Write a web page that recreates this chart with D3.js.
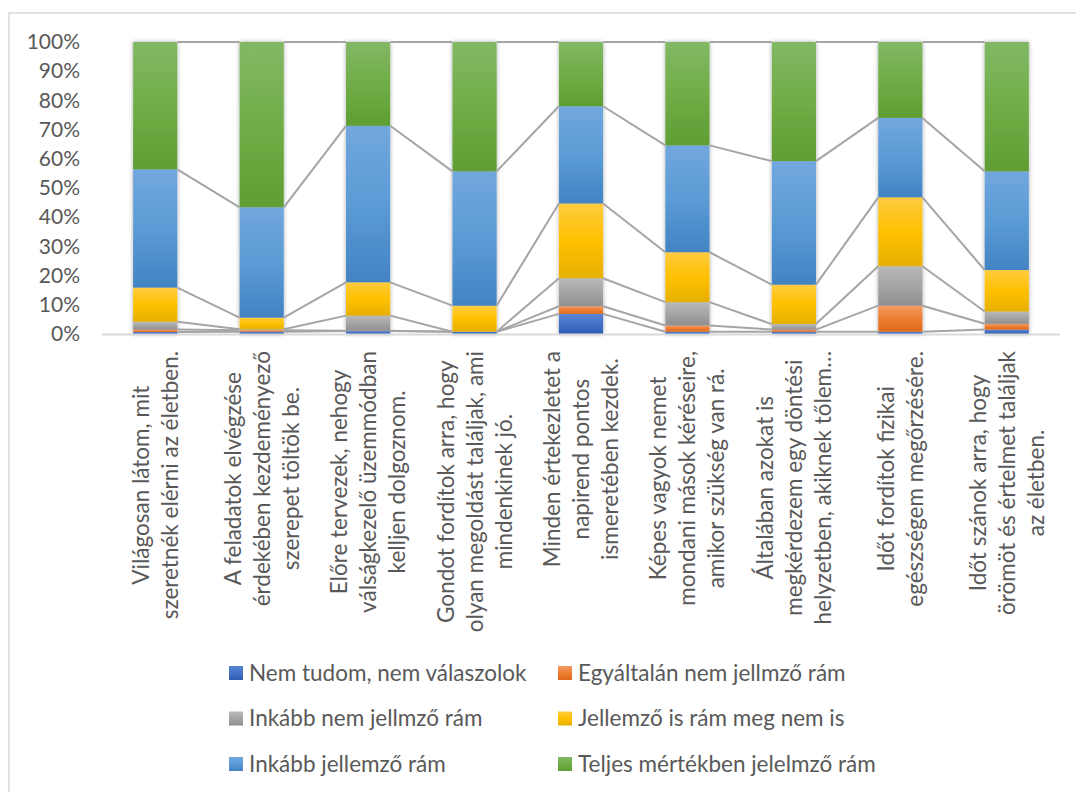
<!DOCTYPE html>
<html>
<head>
<meta charset="utf-8">
<script src="https://cdn.jsdelivr.net/npm/d3@7"></script>
<style>
  body { margin: 0; background: #fff; }
  svg { display: block; font-family: Lato, "Open Sans", sans-serif; }
</style>
</head>
<body>
<svg id="chart"></svg>
<script>
let categories = [
    ["Világosan látom, mit", "szeretnék elérni az életben."],
    ["A feladatok elvégzése", "érdekében kezdeményező", "szerepet töltök be."],
    ["Előre tervezek, nehogy", "válságkezelő üzemmódban", "kelljen dolgoznom."],
    ["Gondot fordítok arra, hogy", "olyan megoldást találjak, ami", "mindenkinek jó."],
    ["Minden értekezletet a", "napirend pontos", "ismeretében kezdek."],
    ["Képes vagyok nemet", "mondani mások kéréseire,", "amikor szükség van rá."],
    ["Általában azokat is", "megkérdezem egy döntési", "helyzetben, akiknek tőlem…"],
    ["Időt fordítok fizikai", "egészségem megőrzésére."],
    ["Időt szánok arra, hogy", "örömöt és értelmet találjak", "az életben."]
];

let seriesNames = [
    "Nem tudom, nem válaszolok",
    "Egyáltalán nem jellmző rám",
    "Inkább nem jellmző rám",
    "Jellemző is rám meg nem is",
    "Inkább jellemző rám",
    "Teljes mértékben jelelmző rám"
];

let nemTudom       = [0.7, 0.8, 1.0, 0.8, 6.9, 0.8, 0.8, 0.8, 1.5];
let egyaltalan     = [0.8, 0.5, 0.1, 0.0, 2.6, 2.1, 0.7, 8.9, 2.0];
let inkabbNem      = [2.7, 0.3, 5.2, 0.0, 9.6, 8.0, 1.9, 13.5, 4.2];
let jellemzoIs     = [11.7, 4.0, 11.4, 8.9, 25.6, 17.1, 13.5, 23.6, 14.2];
let inkabbJellemzo = [40.5, 37.8, 53.6, 46.0, 33.3, 36.6, 42.3, 27.2, 33.8];
let teljes         = [43.6, 56.6, 28.7, 44.3, 22.0, 35.4, 40.8, 26.0, 44.3];

let yTicks = [0, 0.1, 0.2, 0.3, 0.4, 0.5, 0.6, 0.7, 0.8, 0.9, 1];

window.addEventListener('load', e => {
    let width = 1076;
    let height = 792;
    let left = 102, right = 1060, top = 42, bottom = 334;
    let textColor = "#595959";

    // gradient stops per series: top, middle, bottom
    let gradients = [
        ["#5b85d4", "#4472c4", "#2f5cb4"],
        ["#f39a62", "#ed7d31", "#e0691a"],
        ["#b9b9b9", "#a5a5a5", "#8f8f8f"],
        ["#ffcc40", "#ffc000", "#e6b000"],
        ["#72a7de", "#5b9bd5", "#4283c3"],
        ["#82b866", "#70ad47", "#5e9e33"]
    ];

    let columns = [nemTudom, egyaltalan, inkabbNem, jellemzoIs, inkabbJellemzo, teljes];
    let rows = categories.map((c, i) => {
        let row = { idx: i };
        seriesNames.forEach((s, j) => row[s] = columns[j][i]);
        return row;
    });

    let stacked = d3.stack()
                    .keys(seriesNames)
                    .offset(d3.stackOffsetExpand)(rows);

    let xScale = d3.scaleBand()
                   .domain(d3.range(categories.length))
                   .range([left, right])
                   .paddingInner(0.585)
                   .paddingOuter(0.2925);

    let yScale = d3.scaleLinear()
                   .domain([0, 1])
                   .range([bottom, top]);

    let svg = d3.select("#chart")
                .attr("width", width)
                .attr("height", height);

    let defs = svg.append("defs");

    gradients.forEach((g, i) => {
        let lg = defs.append("linearGradient")
                     .attr("id", "grad" + i)
                     .attr("x1", 0).attr("y1", 0)
                     .attr("x2", 0).attr("y2", 1);
        lg.append("stop").attr("offset", "0%").attr("stop-color", g[0]);
        lg.append("stop").attr("offset", "50%").attr("stop-color", g[1]);
        lg.append("stop").attr("offset", "100%").attr("stop-color", g[2]);
    });

    defs.append("filter")
        .attr("id", "shadow")
        .attr("x", "-30%").attr("y", "-5%")
        .attr("width", "160%").attr("height", "110%")
      .append("feDropShadow")
        .attr("dx", 0).attr("dy", 0)
        .attr("stdDeviation", 2.2)
        .attr("flood-color", "#000")
        .attr("flood-opacity", 0.35);

    // chart frame
    svg.append("path")
       .attr("d", "M9," + (height + 5) + " V13 H" + (width + 5))
       .attr("fill", "none")
       .attr("stroke", "#d9d9d9")
       .attr("stroke-width", 1.5);

    // y axis
    let yAxis = d3.axisLeft(yScale)
                  .tickValues(yTicks)
                  .tickFormat(d3.format(".0%"))
                  .tickSize(0)
                  .tickPadding(22);

    svg.append("g")
       .attr("transform", "translate(" + left + ",0)")
       .call(yAxis)
       .call(g => g.select(".domain").remove())
       .selectAll("text")
         .attr("fill", textColor)
         .style("font-size", "21px")
         .style("font-family", "Lato, sans-serif");

    // bars (one group per category so the shadow wraps the whole stack)
    let bw = xScale.bandwidth();

    let barGroups = svg.append("g")
                       .selectAll("g")
                       .data(rows)
                       .enter()
                       .append("g")
                         .attr("filter", "url(#shadow)");

    barGroups.selectAll("rect")
             .data(r => stacked.map((s, j) => ({ j: j, d: s[r.idx] })))
             .enter()
             .append("rect")
               .attr("x", d => xScale(d.d.data.idx))
               .attr("y", d => yScale(d.d[1]))
               .attr("width", bw)
               .attr("height", d => Math.max(0, yScale(d.d[0]) - yScale(d.d[1])))
               .attr("fill", d => "url(#grad" + d.j + ")");

    // series lines between bars
    let lineGroup = svg.append("g");
    stacked.forEach(s => {
        for (let i = 0; i < s.length - 1; i++) {
            lineGroup.append("line")
                     .attr("x1", xScale(i) + bw)
                     .attr("y1", yScale(s[i][1]))
                     .attr("x2", xScale(i + 1))
                     .attr("y2", yScale(s[i + 1][1]))
                     .attr("stroke", "#a5a5a5")
                     .attr("stroke-width", 2);
        }
    });

    // x axis line
    svg.append("line")
       .attr("x1", left)
       .attr("x2", right)
       .attr("y1", bottom + 0.5)
       .attr("y2", bottom + 0.5)
       .attr("stroke", "#d9d9d9")
       .attr("stroke-width", 2);

    // category labels, rotated, lines centred in their block
    let lineGap = 29;
    categories.forEach((lines, i) => {
        let cx = xScale(i) + bw / 2;
        let g = svg.append("g")
                   .style("font-size", "22.5px")
                   .attr("fill", textColor);
        let texts = lines.map((l, k) => g.append("text")
                                          .attr("text-anchor", "middle")
                                          .text(l));
        let maxW = d3.max(texts, t => t.node().getComputedTextLength());
        let cy = 351 + maxW / 2;
        texts.forEach((t, k) => {
            let lx = cx + (k - (lines.length - 1) / 2) * lineGap + 8;
            t.attr("transform", "translate(" + lx + "," + cy + ") rotate(-90)");
        });
    });

    // legend
    let legendX = [229, 558];
    let legendY = [673, 718.5, 764];
    seriesNames.forEach((s, j) => {
        let lx = legendX[j % 2];
        let ly = legendY[Math.floor(j / 2)];
        svg.append("rect")
           .attr("x", lx)
           .attr("y", ly - 7)
           .attr("width", 14)
           .attr("height", 14)
           .attr("fill", "url(#grad" + j + ")");
        svg.append("text")
           .attr("x", lx + 20)
           .attr("y", ly)
           .attr("dy", "0.35em")
           .attr("fill", textColor)
           .style("font-size", "22.5px")
           .text(s);
    });
});
</script>
</body>
</html>
